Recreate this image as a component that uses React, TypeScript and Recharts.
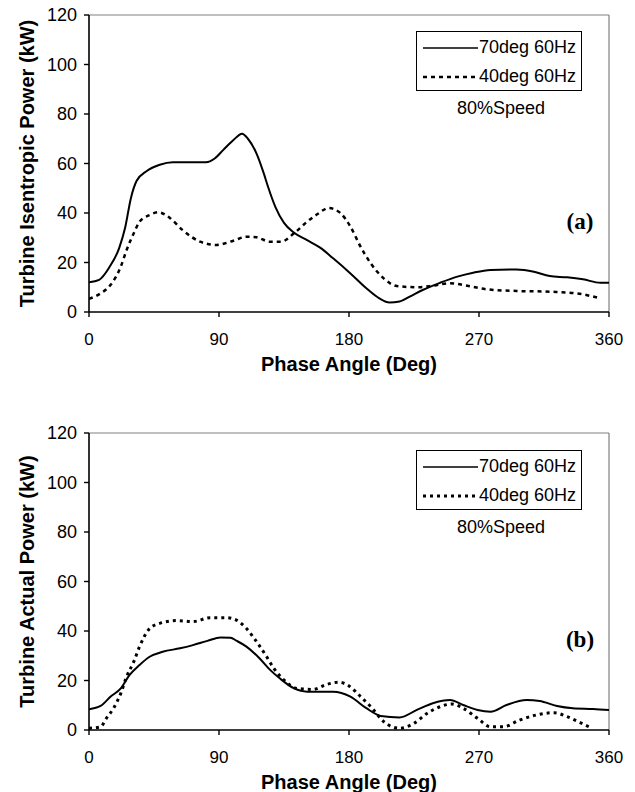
import React from "react";
import { LineChart, Line, XAxis, YAxis, ReferenceLine } from "recharts";

// Phase angle ticks and power ticks shared by both panels
const phaseTicks = [0, 90, 180, 270, 360];
const powerTicks = [0, 20, 40, 60, 80, 100, 120];

// (a) Turbine isentropic power
const isenPhase70 = [0, 7, 14, 21, 25, 29, 33, 40, 49, 58, 68, 81, 87, 93, 100, 106, 110, 116, 121, 124, 129, 135, 142, 151, 160, 169, 181, 192, 201, 208, 215, 222, 231, 243, 255, 266, 278, 296, 308, 319, 331, 342, 354, 360];
const isenPower70 = [12, 13, 18, 26, 34, 46, 53, 57, 59.5, 60.5, 60.5, 60.5, 62, 65.5, 69.5, 72, 70, 64, 56, 50.5, 42.5, 36, 32, 29, 26, 21.7, 15.6, 9.6, 5.5, 3.8, 4.2, 6.2, 8.9, 11.8, 14.3, 15.9, 17, 17.2, 16.3, 14.5, 14, 13.2, 11.8, 11.8];
const isenPhase40 = [0, 8, 15, 22, 26, 31, 35, 42, 48, 56, 65, 77, 88, 100, 109, 116, 125, 133, 142, 151, 158, 166, 174, 181, 188, 195, 204, 213, 227, 238, 250, 262, 275, 296, 319, 338, 352];
const isenPower40 = [5.3, 7.5, 11, 18.3, 25, 31.8, 36.5, 39.2, 40.3, 38, 33, 28.4, 27.1, 28.8, 30.4, 30.2, 28.4, 28.4, 31.8, 36.5, 39.5, 42, 40, 34.5, 26.4, 19.7, 13.6, 10.5, 10, 10.6, 11.6, 10.6, 9.2, 8.5, 8.2, 7.5, 5.8];

// (b) Turbine actual power
const actPhase70 = [0, 8, 15, 22, 28, 35, 42, 51, 63, 72, 82, 91, 98, 102, 109, 118, 125, 132, 142, 151, 160, 169, 181, 192, 202, 215, 227, 238, 250, 259, 269, 278, 289, 303, 312, 324, 335, 349, 360];
const actPower70 = [8.4, 9.7, 13.5, 16.8, 22.2, 26.3, 29.6, 31.6, 33, 34.3, 36, 37.4, 37.3, 36.1, 33.7, 29, 24.5, 20.9, 16.8, 15.5, 15.5, 15.5, 13.5, 8.8, 5.7, 5.1, 8.1, 10.8, 12.1, 10.1, 8.1, 7.4, 10.1, 12.1, 11.7, 9.7, 8.8, 8.5, 8.1];
const actPhase40 = [0, 8, 12, 17, 22, 26, 31, 35, 42, 49, 61, 72, 84, 95, 102, 109, 116, 123, 128, 135, 144, 155, 165, 173, 180, 188, 196, 204, 215, 225, 234, 243, 251, 259, 269, 278, 287, 298, 310, 322, 331, 340, 346];
const actPower40 = [0.7, 1.3, 4.7, 8.8, 14.8, 21.5, 27.6, 33.7, 41, 43.1, 44.2, 43.8, 45.4, 45.4, 44.4, 41, 35.7, 29.6, 24.9, 20.2, 16.8, 16.4, 18.5, 19.3, 17.8, 13.5, 8.8, 3.4, 0.7, 2.7, 6.7, 9.4, 10.5, 8.8, 4.7, 1.3, 1.3, 4, 6.1, 7, 5.4, 3, 1.3];

const seriesNames = ["70deg 60Hz", "40deg 60Hz"];
const speedNote = "80%Speed";
const xTitle = "Phase Angle (Deg)";

const zip = (phase: number[], power: number[]) =>
  phase.map((deg, i) => ({ deg, kw: power[i] }));

const SANS = "'Liberation Sans', Arial, sans-serif";
const SERIF = "'Liberation Serif', 'Times New Roman', serif";

type PanelProps = {
  top: number;
  height: number;
  plotTop: number;
  yTitle: string;
  tag: string;
  solid: { deg: number; kw: number }[];
  broken: { deg: number; kw: number }[];
  dash: string;
  dashWidth: number;
  legendTop: number;
};

function Panel(p: PanelProps) {
  const xAxisHeight = p.height - p.plotTop - 297;
  return (
    <div style={{ position: "absolute", left: 0, top: p.top, width: 635, height: p.height }}>
      <LineChart
        width={635}
        height={p.height}
        margin={{ top: p.plotTop, right: 26, left: 0, bottom: 0 }}
      >
        <XAxis
          dataKey="deg"
          type="number"
          domain={[0, 360]}
          ticks={phaseTicks}
          allowDataOverflow
          height={xAxisHeight}
          axisLine={{ stroke: "#000", strokeWidth: 1.6 }}
          tickLine={{ stroke: "#000", strokeWidth: 1.4 }}
          tickSize={5}
          tickMargin={16}
          tick={{ fill: "#000", fontSize: 17, fontFamily: SANS }}
          label={{
            content: (props: any) => {
              const vb = props.viewBox;
              return (
                <text
                  x={vb.x + vb.width / 2}
                  y={vb.y + 52}
                  textAnchor="middle"
                  dominantBaseline="central"
                  fontFamily={SANS}
                  fontWeight="bold"
                  fontSize={20}
                  fill="#000"
                >
                  {xTitle}
                </text>
              );
            },
          }}
        />
        <YAxis
          type="number"
          domain={[0, 120]}
          ticks={powerTicks}
          width={89}
          axisLine={{ stroke: "#000", strokeWidth: 1.6 }}
          tickLine={{ stroke: "#000", strokeWidth: 1.4 }}
          tickSize={5}
          tickMargin={7}
          tick={{ fill: "#000", fontSize: 18, fontFamily: SANS }}
          label={{
            content: (props: any) => {
              const vb = props.viewBox;
              const cx = 27;
              const cy = vb.y + vb.height / 2;
              return (
                <text
                  x={cx}
                  y={cy}
                  transform={`rotate(-90, ${cx}, ${cy})`}
                  textAnchor="middle"
                  dominantBaseline="central"
                  fontFamily={SANS}
                  fontWeight="bold"
                  fontSize={20}
                  fill="#000"
                >
                  {p.yTitle}
                </text>
              );
            },
          }}
        />
        <ReferenceLine y={120} stroke="#808080" strokeWidth={1.2} />
        <ReferenceLine x={360} stroke="#808080" strokeWidth={1.2} />
        <Line
          data={p.broken}
          dataKey="kw"
          type="monotone"
          stroke="#000"
          strokeWidth={p.dashWidth}
          strokeDasharray={p.dash}
          dot={false}
          isAnimationActive={false}
        />
        <Line
          data={p.solid}
          dataKey="kw"
          type="monotone"
          stroke="#000"
          strokeWidth={2}
          dot={false}
          isAnimationActive={false}
        />
      </LineChart>

      {/* legend box */}
      <div
        style={{
          position: "absolute",
          left: 416,
          top: p.legendTop,
          width: 164,
          height: 58,
          border: "1.5px solid #000",
          background: "#fff",
          fontFamily: SANS,
          fontSize: 18,
          color: "#000",
        }}
      >
        {seriesNames.map((name, i) => (
          <div
            key={name}
            style={{
              position: "absolute",
              left: 6,
              top: 2 + i * 29,
              height: 27,
              display: "flex",
              alignItems: "center",
              whiteSpace: "nowrap",
            }}
          >
            <svg width={55} height={10} style={{ display: "block" }}>
              <line
                x1={0}
                y1={5}
                x2={55}
                y2={5}
                stroke="#000"
                strokeWidth={i === 0 ? 1.6 : p.dashWidth}
                strokeDasharray={i === 0 ? undefined : p.dash}
              />
            </svg>
            <span style={{ marginLeft: 1 }}>{name}</span>
          </div>
        ))}
      </div>
      <div
        style={{
          position: "absolute",
          left: 416,
          width: 170,
          top: p.legendTop + 64,
          textAlign: "center",
          fontFamily: SANS,
          fontSize: 18,
          color: "#000",
          lineHeight: "26px",
        }}
      >
        {speedNote}
      </div>
      <div
        style={{
          position: "absolute",
          left: 550,
          width: 60,
          top: p.plotTop + 192,
          textAlign: "center",
          fontFamily: SERIF,
          fontWeight: "bold",
          fontSize: 23,
          color: "#000",
          lineHeight: "30px",
        }}
      >
        {p.tag}
      </div>
    </div>
  );
}

export default function App() {
  return (
    <div
      style={{
        position: "absolute",
        left: 0,
        top: 0,
        width: 635,
        height: 792,
        background: "#fff",
      }}
    >
      <Panel
        top={0}
        height={380}
        plotTop={15}
        yTitle="Turbine Isentropic Power (kW)"
        tag="(a)"
        solid={zip(isenPhase70, isenPower70)}
        broken={zip(isenPhase40, isenPower40)}
        dash="4 4"
        dashWidth={2.5}
        legendTop={31}
      />
      <Panel
        top={380}
        height={412}
        plotTop={53}
        yTitle="Turbine Actual Power (kW)"
        tag="(b)"
        solid={zip(actPhase70, actPower70)}
        broken={zip(actPhase40, actPower40)}
        dash="3 4"
        dashWidth={3}
        legendTop={70}
      />
    </div>
  );
}
